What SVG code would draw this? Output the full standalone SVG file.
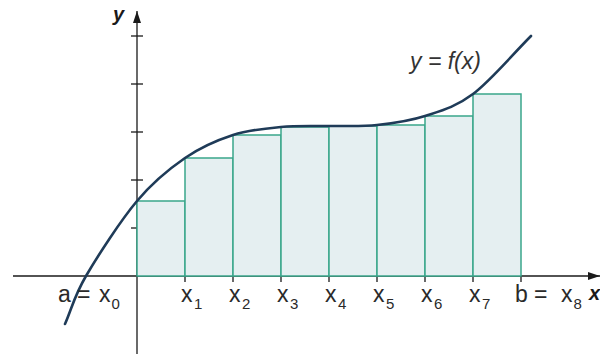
<svg xmlns="http://www.w3.org/2000/svg" width="600" height="354" viewBox="0 0 600 354">
  <style>
    .axis { stroke: #1a1a1a; stroke-width: 1.3; fill: none; }
    .tick { stroke: #1a1a1a; stroke-width: 1.3; }
    .bar { fill: #e5eff1; stroke: #3aa68b; stroke-width: 1.5; }
    .curve { fill: none; stroke: #1f3b58; stroke-width: 2.6; stroke-linecap: round; }
    .lbl { font-family: "Liberation Sans", Arial, sans-serif; font-size: 23px; fill: #2a2a2a; }
    .sub { font-size: 15px; }
    .axlbl { font-family: "Liberation Sans", Arial, sans-serif; font-size: 20px; font-weight: bold; font-style: italic; fill: #1a1a1a; }
    .flbl { font-family: "Liberation Sans", Arial, sans-serif; font-size: 23px; font-style: italic; fill: #333333; }
  </style>
  <defs>
    <marker id="arrow" viewBox="0 0 12 8" refX="12" refY="4" markerWidth="12" markerHeight="8" markerUnits="userSpaceOnUse" orient="auto">
      <path d="M0,0 L12,4 L0,8 Z" fill="#1a1a1a"/>
    </marker>
  </defs>
  <rect width="600" height="354" fill="#ffffff"/>

  <g id="axes">
    <line class="axis" x1="13" y1="276" x2="600" y2="276" marker-end="url(#arrow)"/>
    <line class="axis" x1="137" y1="354" x2="137" y2="11" marker-end="url(#arrow)"/>
    <line class="tick" x1="131" y1="36" x2="143" y2="36"/>
    <line class="tick" x1="131" y1="84" x2="143" y2="84"/>
    <line class="tick" x1="131" y1="132" x2="143" y2="132"/>
    <line class="tick" x1="131" y1="180" x2="143" y2="180"/>
    <line class="tick" x1="131" y1="228" x2="143" y2="228"/>
    <line class="tick" x1="185" y1="276" x2="185" y2="282"/>
    <line class="tick" x1="233" y1="276" x2="233" y2="282"/>
    <line class="tick" x1="281" y1="276" x2="281" y2="282"/>
    <line class="tick" x1="329" y1="276" x2="329" y2="282"/>
    <line class="tick" x1="377" y1="276" x2="377" y2="282"/>
    <line class="tick" x1="425" y1="276" x2="425" y2="282"/>
    <line class="tick" x1="473" y1="276" x2="473" y2="282"/>
    <line class="tick" x1="521" y1="276" x2="521" y2="282"/>
    <text class="axlbl" x="113" y="21">y</text>
    <text class="axlbl" x="589" y="300">x</text>
  </g>

  <g id="rectangles">
    <rect class="bar" x="137" y="201" width="48" height="75"/>
    <rect class="bar" x="185" y="158" width="48" height="118"/>
    <rect class="bar" x="233" y="135" width="48" height="141"/>
    <rect class="bar" x="281" y="127" width="48" height="149"/>
    <rect class="bar" x="329" y="126" width="48" height="150"/>
    <rect class="bar" x="377" y="125" width="48" height="151"/>
    <rect class="bar" x="425" y="116" width="48" height="160"/>
    <rect class="bar" x="473" y="94" width="48" height="182"/>
  </g>

  <g id="curve">
    <path class="curve" d="M65,324 C72,308 74,296.5 86,276 C98,255.5 120.5,220.7 137,201 C153.5,181.3 169,169 185,158 C201,147 217,140.2 233,135 C249,129.8 265,128.5 281,127 C297,125.5 313,126.3 329,126 C345,125.7 361,126.7 377,125 C393,123.3 409,121.2 425,116 C441,110.8 455.3,107.3 473,94 C490.7,80.7 511.7,55.3 531,36"/>
    <text class="flbl" x="410" y="69">y = f(x)</text>
  </g>

  <g id="labels">
    <text class="lbl" y="302"><tspan x="58">a</tspan><tspan x="77">=</tspan><tspan x="99">x</tspan><tspan class="sub" x="111.5" dy="7">0</tspan></text>
    <text class="lbl" x="181" y="302">x<tspan class="sub" x="194" dy="7">1</tspan></text>
    <text class="lbl" x="229" y="302">x<tspan class="sub" x="242" dy="7">2</tspan></text>
    <text class="lbl" x="277" y="302">x<tspan class="sub" x="290" dy="7">3</tspan></text>
    <text class="lbl" x="325" y="302">x<tspan class="sub" x="338" dy="7">4</tspan></text>
    <text class="lbl" x="373" y="302">x<tspan class="sub" x="386" dy="7">5</tspan></text>
    <text class="lbl" x="421" y="302">x<tspan class="sub" x="434" dy="7">6</tspan></text>
    <text class="lbl" x="469" y="302">x<tspan class="sub" x="482" dy="7">7</tspan></text>
    <text class="lbl" y="302"><tspan x="515">b</tspan><tspan x="534">=</tspan><tspan x="561">x</tspan><tspan class="sub" x="573.5" dy="7">8</tspan></text>
  </g>
</svg>
